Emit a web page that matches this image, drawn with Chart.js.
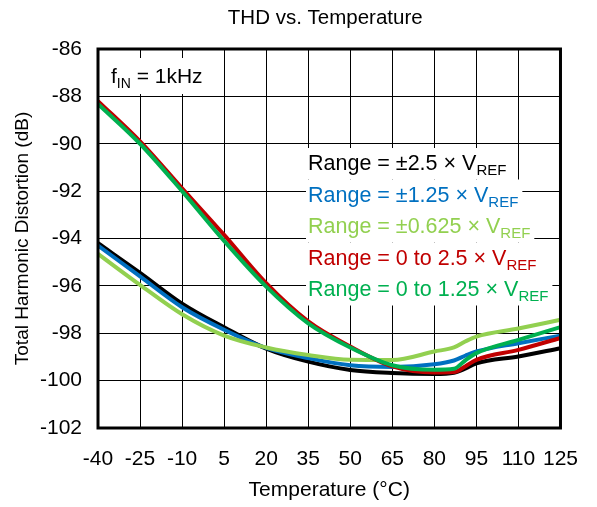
<!DOCTYPE html>
<html>
<head>
<meta charset="utf-8">
<script src="https://cdn.jsdelivr.net/npm/chart.js@4.4.1/dist/chart.umd.min.js"></script>
<style>
  html, body { margin: 0; padding: 0; background: #fff; }
  #wrap { width: 597px; height: 507px; }
</style>
</head>
<body>
<div id="wrap"><canvas id="thdChart" width="597" height="507"></canvas></div>
<script>
// temperatures (°C) where the curves were read
const temps = [-40, -25, -10, 5, 20, 35, 50, 65, 80, 87, 91, 95, 110, 125];

// THD (dB) per input range
const thdPm25   = [-94.2, -95.45, -96.75, -97.75, -98.65, -99.2, -99.55, -99.68, -99.72, -99.67, -99.5, -99.27, -98.98, -98.63];
const thdPm125  = [-94.3, -95.6, -96.9, -97.85, -98.62, -99.05, -99.35, -99.42, -99.31, -99.15, -98.95, -98.77, -98.42, -98.1];
const thdPm0625 = [-94.65, -95.96, -97.2, -98.1, -98.6, -98.92, -99.12, -99.13, -98.77, -98.6, -98.35, -98.14, -97.8, -97.43];
const thdU25    = [-88.2, -89.9, -91.88, -93.85, -95.89, -97.5, -98.56, -99.4, -99.66, -99.64, -99.4, -99.12, -98.7, -98.2];
const thdU125   = [-88.32, -90.0, -92.0, -94.1, -96.03, -97.58, -98.6, -99.35, -99.54, -99.5, -99.15, -98.84, -98.28, -97.74];

const seriesNames = ['Range = ±2.5 × V', 'Range = ±1.25 × V', 'Range = ±0.625 × V', 'Range = 0 to 2.5 × V', 'Range = 0 to 1.25 × V'];
const seriesColors = ['#000000', '#0070C0', '#92D050', '#C00000', '#00B050'];
const seriesData = [thdPm25, thdPm125, thdPm0625, thdU25, thdU125];

const xTicks = { min: -40, max: 125, step: 15 };
const yTicks = { min: -102, max: -86, step: 2 };

Chart.defaults.font.family = "'Liberation Sans', Arial, sans-serif";
Chart.defaults.color = '#000';

const FONT = "'Liberation Sans', Arial, sans-serif";

// title, text boxes and plot frame
const decorPlugin = {
    id: 'decor',
    beforeDatasetsDraw(chart) {
        const ctx = chart.ctx;
        const a = chart.chartArea;
        ctx.save();
        // f_IN box
        ctx.fillStyle = '#fff';
        ctx.fillRect(a.left + 2, 58, 124, 36);
        ctx.fillStyle = '#000';
        ctx.textBaseline = 'alphabetic';
        ctx.font = '21px ' + FONT;
        ctx.fillText('f', 111, 83);
        let fw = ctx.measureText('f').width;
        ctx.font = '14px ' + FONT;
        ctx.fillText('IN', 111 + fw, 88);
        let iw = ctx.measureText('IN').width;
        ctx.font = '21px ' + FONT;
        ctx.fillText(' = 1kHz', 111 + fw + iw, 83);

        // legend lines
        for (let i = 0; i < seriesNames.length; i++) {
            const base = 170 + i * 31.5;
            ctx.font = '21.5px ' + FONT;
            const w1 = ctx.measureText(seriesNames[i]).width;
            ctx.font = '15px ' + FONT;
            const w2 = ctx.measureText('REF').width;
            ctx.fillStyle = '#fff';
            ctx.fillRect(306, base - 22, w1 + w2 + 6, 31.5);
            ctx.fillStyle = seriesColors[i];
            ctx.font = '21.5px ' + FONT;
            ctx.fillText(seriesNames[i], 308, base);
            ctx.font = '15px ' + FONT;
            ctx.fillText('REF', 308 + w1, base + 5);
        }
        ctx.restore();
    },
    afterDraw(chart) {
        const ctx = chart.ctx;
        const a = chart.chartArea;
        ctx.save();
        ctx.strokeStyle = '#000';
        ctx.lineWidth = 3;
        ctx.strokeRect(a.left, a.top, a.right - a.left, a.bottom - a.top);
        ctx.fillStyle = '#000';
        ctx.font = '20.5px ' + FONT;
        ctx.textAlign = 'center';
        ctx.textBaseline = 'middle';
        ctx.fillText('THD vs. Temperature', (a.left + a.right) / 2 - 4, 18);
        ctx.restore();
    }
};

const datasets = seriesData.map((vals, i) => ({
    label: seriesNames[i] + 'REF',
    data: temps.map((t, j) => ({ x: t, y: vals[j] })),
    borderColor: seriesColors[i],
    borderWidth: 4,
    pointRadius: 0,
    fill: false,
    cubicInterpolationMode: 'monotone',
    order: seriesNames.length - i
}));

new Chart(document.getElementById('thdChart'), {
    type: 'line',
    data: { datasets: datasets },
    options: {
        responsive: false,
        animation: false,
        layout: { padding: { top: 49, right: 29, bottom: 0, left: 0 } },
        plugins: {
            legend: { display: false },
            tooltip: { enabled: false },
            title: { display: false }
        },
        scales: {
            x: {
                type: 'linear',
                min: xTicks.min,
                max: xTicks.max,
                afterFit(scale) { scale.height = 79; },
                ticks: { stepSize: xTicks.step, padding: 19, font: { size: 21 }, color: '#000', maxRotation: 0 },
                grid: { color: '#000', lineWidth: 1, drawTicks: false },
                border: { display: false },
                title: { display: true, text: 'Temperature (°C)', font: { size: 21 }, color: '#000', padding: { top: 0, bottom: 4 } }
            },
            y: {
                min: yTicks.min,
                max: yTicks.max,
                afterFit(scale) { scale.width = 98; },
                ticks: { stepSize: yTicks.step, padding: 16, font: { size: 21 }, color: '#000' },
                grid: { color: '#000', lineWidth: 1, drawTicks: false },
                border: { display: false },
                title: { display: true, text: 'Total Harmonic Distortion (dB)', font: { size: 19 }, color: '#000', padding: { top: 11, bottom: 0 } }
            }
        }
    },
    plugins: [decorPlugin]
});
</script>
</body>
</html>
